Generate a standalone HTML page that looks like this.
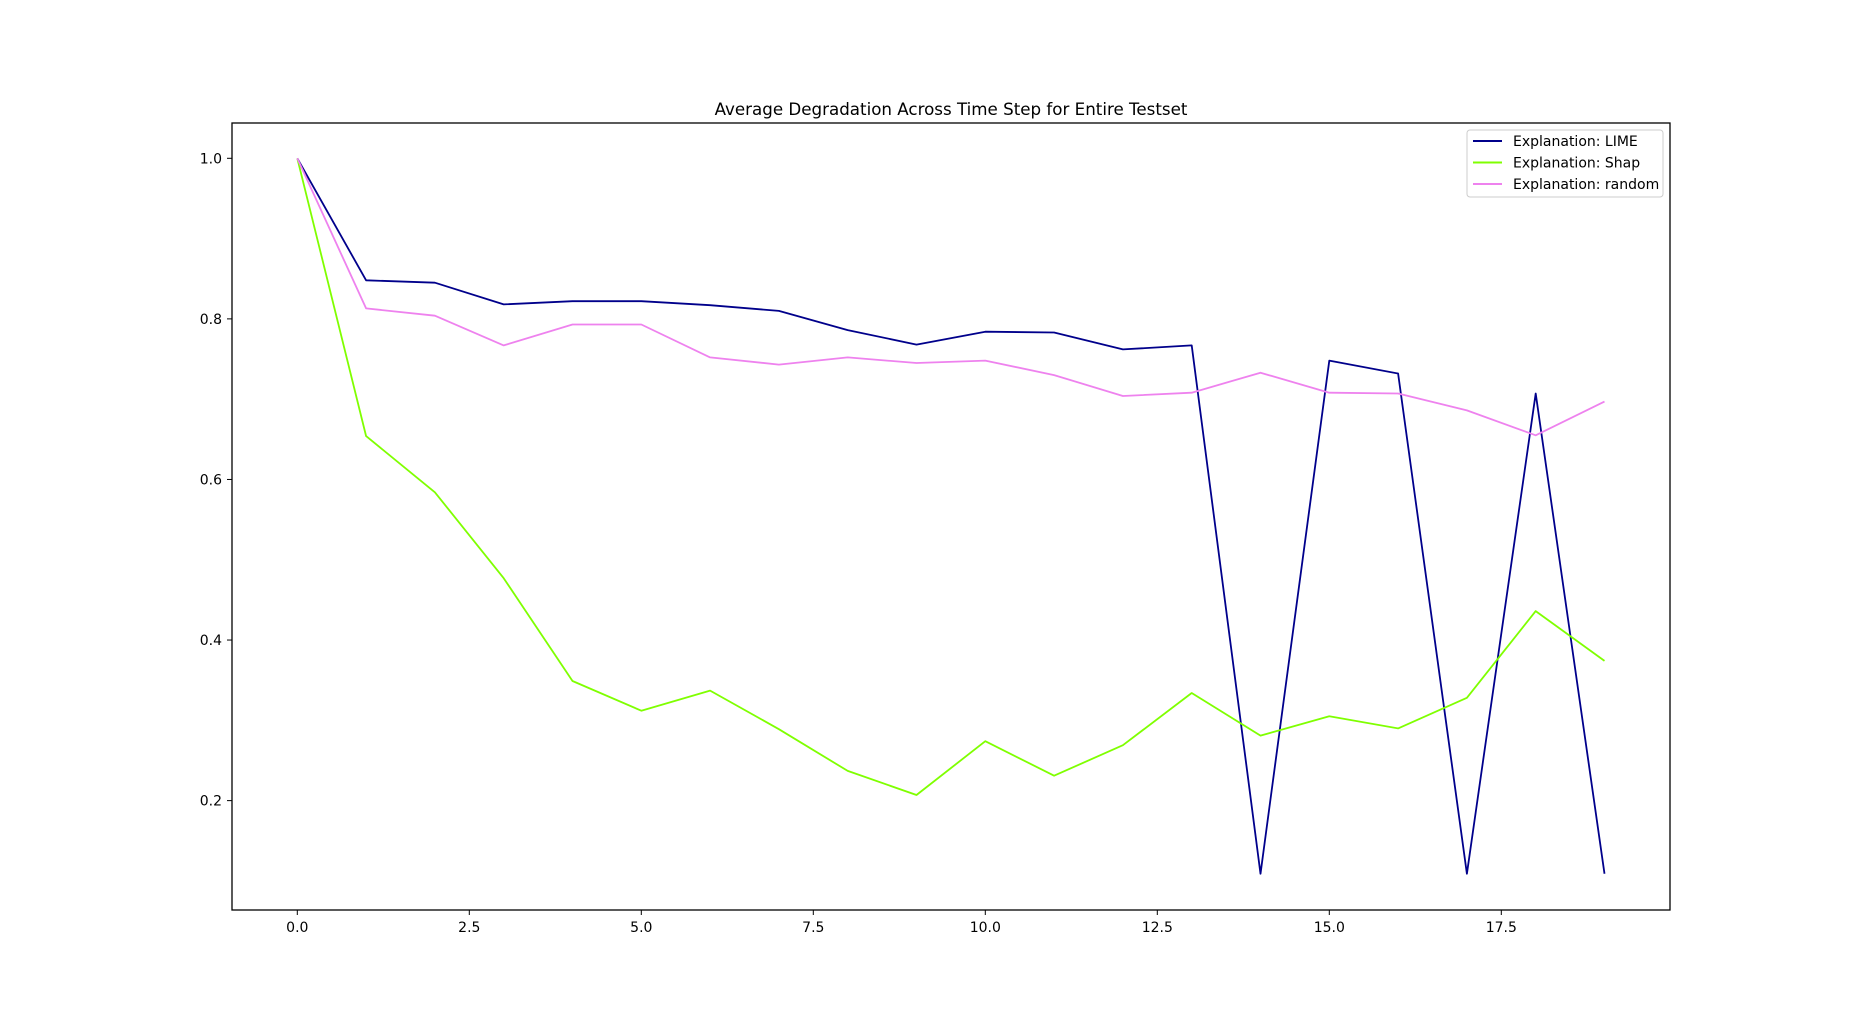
<!DOCTYPE html>
<html><head><meta charset="utf-8"><style>
html,body{margin:0;padding:0;background:#fff;}
svg{display:block;font-family:"DejaVu Sans","Liberation Sans",sans-serif;}
</style></head><body>
<svg id="chart" width="1855" height="1022" xmlns="http://www.w3.org/2000/svg">
<rect x="0" y="0" width="1855" height="1022" fill="#fff"/>
<text x="951" y="115" font-size="16.7" text-anchor="middle" fill="#000">Average Degradation Across Time Step for Entire Testset</text>
<g id="plot"></g>
<rect x="232" y="123" width="1438" height="787" fill="none" stroke="#000" stroke-width="1.3"/>
<g>
<rect x="1467" y="130" width="196" height="67" rx="3" fill="#fff" fill-opacity="0.8" stroke="#ccc" stroke-width="1"/>
<line x1="1473" y1="141" x2="1502" y2="141" stroke="#00008b" stroke-width="2"/>
<text x="1513" y="146" font-size="14" fill="#000">Explanation: LIME</text>
<line x1="1473" y1="162.5" x2="1502" y2="162.5" stroke="#7fff00" stroke-width="2"/>
<text x="1513" y="167.5" font-size="14" fill="#000">Explanation: Shap</text>
<line x1="1473" y1="184" x2="1502" y2="184" stroke="#ee82ee" stroke-width="2"/>
<text x="1513" y="189" font-size="14" fill="#000">Explanation: random</text>
</g>
</svg>
<script>
const steps = [0,1,2,3,4,5,6,7,8,9,10,11,12,13,14,15,16,17,18,19];
const limeValues = [1.0,0.848,0.845,0.818,0.822,0.822,0.817,0.810,0.786,0.768,0.784,0.783,0.762,0.767,0.109,0.748,0.732,0.109,0.707,0.109];
const shapValues = [1.0,0.654,0.584,0.477,0.349,0.312,0.337,0.289,0.237,0.207,0.274,0.231,0.269,0.334,0.281,0.305,0.290,0.328,0.436,0.374];
const randomValues = [1.0,0.813,0.804,0.767,0.793,0.793,0.752,0.743,0.752,0.745,0.748,0.730,0.704,0.708,0.733,0.708,0.707,0.686,0.655,0.697];
const xTicks = [0,2.5,5,7.5,10,12.5,15,17.5];
const xTickLabels = ["0.0","2.5","5.0","7.5","10.0","12.5","15.0","17.5"];
const yTicks = [0.2,0.4,0.6,0.8,1.0];
const yTickLabels = ["0.2","0.4","0.6","0.8","1.0"];

const NS = "http://www.w3.org/2000/svg";
function xScale(v){ return 297.3 + v * 68.8; }
function yScale(v){ return 158.3 + (1.0 - v) * 802.9; }
const plot = document.getElementById('plot');
function mk(tag, attrs){ const e = document.createElementNS(NS, tag); for (const k in attrs) e.setAttribute(k, attrs[k]); return e; }

xTicks.forEach((t, i) => {
  const x = xScale(t);
  const ln = mk('line', {x1:x, y1:910, x2:x, y2:915, stroke:'#000', 'stroke-width':1});
  
  
  plot.appendChild(ln);
  const tx = mk('text', {x:x, y:932, 'font-size':14, 'text-anchor':'middle', fill:'#000'});
  tx.textContent = xTickLabels[i];
  
  
  plot.appendChild(tx);
});
yTicks.forEach((t, i) => {
  const y = yScale(t);
  const ln = mk('line', {x1:227, y1:y, x2:232, y2:y, stroke:'#000', 'stroke-width':1});
  
  
  plot.appendChild(ln);
  const tx = mk('text', {x:222, y:y+5, 'font-size':14, 'text-anchor':'end', fill:'#000'});
  tx.textContent = yTickLabels[i];
  
  
  plot.appendChild(tx);
});
function drawSeries(vals, color, name){
  const pts = vals.map((v, i) => xScale(steps[i]).toFixed(1) + ',' + yScale(v).toFixed(1)).join(' ');
  const pl = mk('polyline', {points:pts, fill:'none', stroke:color, 'stroke-width':1.8, 'stroke-linejoin':'round'});
  
  
  plot.appendChild(pl);
}
drawSeries(limeValues, '#00008b', 'series-lime');
drawSeries(shapValues, '#7fff00', 'series-shap');
drawSeries(randomValues, '#ee82ee', 'series-random');
</script>
</body></html>
